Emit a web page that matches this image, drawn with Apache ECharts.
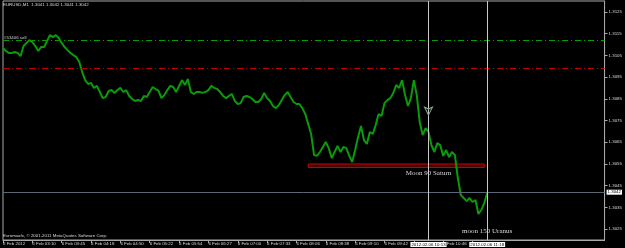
<!DOCTYPE html>
<html>
<head>
<meta charset="UTF-8">
<title>EURUSD M1</title>
<style>
html, body { margin: 0; padding: 0; background: #000; }
#main { width: 625px; height: 248px; }
</style>
</head>
<body>
<div id="main"></div>
<script src="https://cdn.jsdelivr.net/npm/echarts@6/dist/echarts.min.js"></script>
<script>
// time labels, one every 10 samples (hidden ones under the vline boxes left blank)
var tickLabels = ['6 Feb 2012', '6 Feb 03:10', '6 Feb 03:45', '6 Feb 04:18', '6 Feb 04:50',
    '6 Feb 05:22', '6 Feb 05:54', '6 Feb 06:27', '6 Feb 07:00', '6 Feb 07:33', '6 Feb 08:06',
    '6 Feb 08:38', '6 Feb 09:10', '6 Feb 09:42', '', '6 Feb 10:46', ''];
var sampleCount = 206;

// close prices sampled every 3 bars
var prices = [
    1.31084, 1.31070, 1.31061, 1.31061, 1.31065, 1.31061, 1.31047, 1.31093, 1.31107, 1.31120,
    1.31111, 1.31093, 1.31070, 1.31088, 1.31088, 1.31116, 1.31143, 1.31134, 1.31143, 1.31130,
    1.31107, 1.31088, 1.31074, 1.31061, 1.31051, 1.31042, 1.31019, 1.30973, 1.30936, 1.30918,
    1.30923, 1.30900, 1.30909, 1.30881, 1.30853, 1.30858, 1.30886, 1.30890, 1.30877, 1.30890,
    1.30900, 1.30881, 1.30890, 1.30863, 1.30849, 1.30840, 1.30844, 1.30840, 1.30863, 1.30858,
    1.30881, 1.30904, 1.30895, 1.30886, 1.30853, 1.30867, 1.30890, 1.30909, 1.30904, 1.30881,
    1.30909, 1.30936, 1.30913, 1.30941, 1.30881, 1.30872, 1.30881, 1.30881, 1.30877, 1.30881,
    1.30890, 1.30909, 1.30900, 1.30895, 1.30881, 1.30863, 1.30853, 1.30863, 1.30872, 1.30840,
    1.30826, 1.30830, 1.30858, 1.30863, 1.30858, 1.30849, 1.30835, 1.30835, 1.30849, 1.30877,
    1.30853, 1.30840, 1.30817, 1.30807, 1.30821, 1.30844, 1.30867, 1.30881, 1.30858, 1.30835,
    1.30826, 1.30826, 1.30807, 1.30780, 1.30734, 1.30688, 1.30591, 1.30587, 1.30605, 1.30628,
    1.30651, 1.30623, 1.30577, 1.30605, 1.30633, 1.30605, 1.30628, 1.30623, 1.30587, 1.30559,
    1.30614, 1.30674, 1.30725, 1.30660, 1.30642, 1.30697, 1.30688, 1.30729, 1.30780, 1.30771,
    1.30830, 1.30844, 1.30853, 1.30877, 1.30913, 1.30900, 1.30936, 1.30867, 1.30817, 1.30853,
    1.30936, 1.30867, 1.30743, 1.30683, 1.30715, 1.30697, 1.30637, 1.30605, 1.30646, 1.30637,
    1.30587, 1.30614, 1.30582, 1.30605, 1.30591, 1.30485, 1.30407, 1.30393, 1.30379, 1.30393,
    1.30375, 1.30384, 1.30320, 1.30338, 1.30370, 1.30416
];

var priceTicks = [1.3025, 1.3035, 1.3045, 1.3055, 1.3065, 1.3075, 1.3085, 1.3095, 1.3105, 1.3115, 1.3125];

var sellLevel = 1.31118;   // green dash-dot
var redLevel = 1.30990;    // red dash-dot
var lastPrice = 1.3042;
var zoneTop = 1.30550, zoneBottom = 1.30534;
var zoneFrom = 104, zoneTo = 164;
var vlines = [{ idx: 145, text: '2012.02.06 10:13' }, { idx: 165, text: '2012.02.06 11:18' }];
var notes = [{ idx: 145, price: 1.30509, text: 'Moon 90 Saturn' }, { idx: 165, price: 1.30241, text: 'moon 150 Uranus' }];
var arrowAt = { idx: 145, price: 1.30775 };

var categories = [];
for (var i = 0; i < sampleCount; i++) categories.push(String(i));

var small = { fontSize: 4.4, fontFamily: 'Liberation Sans', color: '#d8d8d8' };

var chart = echarts.init(document.getElementById('main'), null, { renderer: 'canvas' });

var markLines = [
    {
        yAxis: sellLevel,
        lineStyle: { color: '#00a000', type: [6, 3, 1, 3], width: 1 },
        label: { show: true, position: 'insideStartTop', distance: 1, formatter: '#53406 sell',
            fontSize: 4.4, fontFamily: 'Liberation Sans', color: '#cfcfcf' }
    },
    {
        yAxis: redLevel,
        lineStyle: { color: '#c00000', type: [6, 3, 1, 3], width: 1 },
        label: { show: false }
    },
    {
        yAxis: lastPrice,
        lineStyle: { color: '#5c6878', type: 'solid', width: 1 },
        label: { show: true, position: 'end', distance: 2, formatter: '1.3042',
            fontSize: 4.4, fontFamily: 'Liberation Sans', color: '#000',
            backgroundColor: '#fff', padding: [1, 1, 0, 1] }
    }
];
vlines.forEach(function (v) {
    markLines.push({
        xAxis: v.idx,
        lineStyle: { color: '#c8c8c8', type: 'solid', width: 1 },
        label: { show: true, position: 'start', distance: 2, formatter: v.text,
            fontSize: 4.4, fontFamily: 'Liberation Sans', color: '#000',
            backgroundColor: '#fff', padding: [1, 1, 0, 1] }
    });
});

var markPoints = notes.map(function (n) {
    return {
        coord: [n.idx, n.price], symbol: 'circle', symbolSize: 0.1,
        label: { show: true, position: 'inside', formatter: n.text,
            fontSize: 7, fontFamily: 'Liberation Serif', color: '#d8d8d8' }
    };
});
markPoints.push({
    coord: [arrowAt.idx, arrowAt.price], symbol: 'arrow', symbolRotate: 180, symbolSize: [6, 8],
    itemStyle: { color: 'rgba(0,0,0,0)', borderColor: '#8fb08f', borderWidth: 1 },
    label: { show: false }
});

var option = {
    backgroundColor: '#000',
    animation: false,
    grid: { left: 1, right: 18, top: 1, bottom: 8, show: true, borderColor: '#a8a8a8', borderWidth: 1 },
    xAxis: {
        type: 'category',
        data: categories,
        boundaryGap: false,
        axisLine: { show: true, lineStyle: { color: '#a8a8a8' } },
        axisTick: {
            show: true, length: 3, lineStyle: { color: '#a8a8a8' },
            interval: function (idx) { return idx % 10 === 0 && idx <= 160; }
        },
        axisLabel: Object.assign({
            align: 'left', margin: 2,
            interval: function (idx) { return idx % 10 === 0 && !!tickLabels[idx / 10]; },
            formatter: function (v, idx) { return tickLabels[idx / 10] || ''; }
        }, small),
        splitLine: { show: false }
    },
    yAxis: {
        type: 'value',
        position: 'right',
        min: 1.3020,
        max: 1.3130,
        axisLine: { show: true, lineStyle: { color: '#a8a8a8' } },
        axisTick: { show: true, length: 3, customValues: priceTicks, lineStyle: { color: '#a8a8a8' } },
        axisLabel: Object.assign({
            margin: 4, customValues: priceTicks,
            formatter: function (v) { return v.toFixed(4); }
        }, small),
        splitLine: { show: false }
    },
    series: [{
        type: 'line',
        data: prices,
        showSymbol: false,
        lineStyle: { color: '#0a9a0a', width: 2 },
        z: 3,
        markArea: {
            silent: true,
            itemStyle: { color: 'rgba(110,0,0,0.6)', borderColor: '#d00000', borderWidth: 1 },
            data: [[{ coord: [zoneFrom, zoneTop] }, { coord: [zoneTo, zoneBottom] }]]
        },
        markLine: { silent: true, precision: 6, symbol: ['none', 'none'], data: markLines },
        markPoint: { silent: true, data: markPoints }
    }],
    graphic: [
        { type: 'text', left: 3, top: 3, style: { text: 'EURUSD,M1  1.3041 1.3042 1.3041 1.3042', fill: '#d8d8d8',
            fontSize: 4.4, fontFamily: 'Liberation Sans' } },
        { type: 'text', left: 3, top: 234, style: { text: 'Euromaxfx, \u00a9 2001-2011 MetaQuotes Software Corp.', fill: '#d8d8d8',
            fontSize: 4.4, fontFamily: 'Liberation Sans' } }
    ]
};

chart.setOption(option);
</script>
</body>
</html>
